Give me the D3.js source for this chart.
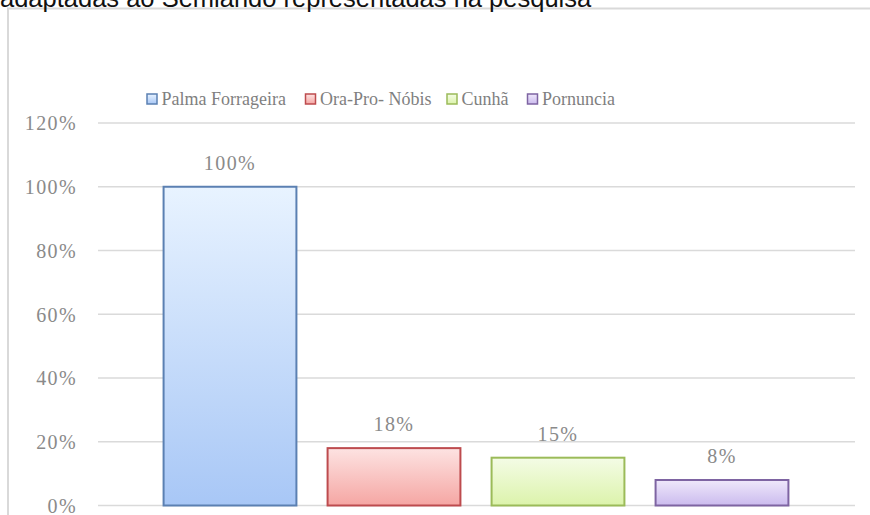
<!DOCTYPE html>
<html>
<head>
  <meta charset="utf-8" />
  <title>Plantas forrageiras</title>
  <script src="https://d3js.org/d3.v7.min.js"></script>
  <style>
    body { margin: 0; background: #fff; overflow: hidden; }
    svg { display: block; }
    .tick text, .val { font-family: "Liberation Serif", serif; fill: #8a8a8a; }
  </style>
</head>
<body>
  <div id="chart"></div>

  <script>
    // data
    const categories = ["Palma Forrageira", "Ora-Pro- Nóbis", "Cunhã", "Pornuncia"];
    const values = [1.00, 0.18, 0.15, 0.08];
    const yTicks = [0, 0.2, 0.4, 0.6, 0.8, 1.0, 1.2];
    const titleText = "adaptadas ao Semiárido representadas na pesquisa";

    // fill gradient (top, bottom) and border per bar
    const gradTop = ["#e8f3ff", "#fde3e2", "#f4fce6", "#efe8fb"];
    const gradBottom = ["#a8c7f6", "#f5a6a3", "#dcf3ab", "#cbbbee"];
    const strokes = ["#5b80b2", "#bd4b4e", "#9bbb59", "#7e64a2"];

    const width = 870, height = 515;

    const svg = d3.select("#chart").append("svg")
      .attr("width", width)
      .attr("height", height);

    const defs = svg.append("defs");
    categories.forEach((c, i) => {
      const g = defs.append("linearGradient")
        .attr("id", "grad" + i)
        .attr("x1", 0).attr("y1", 0).attr("x2", 0).attr("y2", 1);
      g.append("stop").attr("offset", "0%").attr("stop-color", gradTop[i]);
      g.append("stop").attr("offset", "100%").attr("stop-color", gradBottom[i]);
    });

    // chart frame (partly off screen)
    svg.append("rect")
      .attr("x", 8).attr("y", 8.5)
      .attr("width", 900).attr("height", 600)
      .attr("fill", "#fff")
      .attr("stroke", "#d9d9d9")
      .attr("stroke-width", 2);

    // title cut at the top of the page
    svg.append("text")
      .attr("x", 0).attr("y", 7)
      .attr("font-family", "Liberation Sans, Arial, sans-serif")
      .attr("font-size", 25.5)
      .attr("fill", "#111")
      .text(titleText);

    const y = d3.scaleLinear().domain([0, 1.2]).range([505.5, 123]);
    const x = d3.scaleBand().domain(categories)
      .range([148, 804])
      .paddingInner(0.19)
      .paddingOuter(0.095);

    // gridlines + y labels
    const yAxis = d3.axisLeft(y)
      .tickValues(yTicks)
      .tickFormat(d3.format(".0%"))
      .tickSize(0)
      .tickPadding(0);

    const ga = svg.append("g")
      .attr("transform", "translate(77,0)")
      .call(yAxis);
    ga.select(".domain").remove();
    ga.selectAll(".tick text")
      .attr("font-size", 20)
      .attr("letter-spacing", 1.4)
      .attr("dy", "0.34em");

    svg.append("g").selectAll("line")
      .data(yTicks)
      .join("line")
      .attr("x1", 98).attr("x2", 855)
      .attr("y1", d => y(d)).attr("y2", d => y(d))
      .attr("stroke", "#dadada")
      .attr("stroke-width", 1.5);

    // bars
    svg.append("g").selectAll("rect")
      .data(values)
      .join("rect")
      .attr("x", (d, i) => x(categories[i]))
      .attr("y", d => y(d))
      .attr("width", x.bandwidth())
      .attr("height", d => y(0) - y(d))
      .attr("fill", (d, i) => `url(#grad${i})`)
      .attr("stroke", (d, i) => strokes[i])
      .attr("stroke-width", 2);

    // value labels
    svg.append("g").selectAll("text")
      .data(values)
      .join("text")
      .attr("class", "val")
      .attr("x", (d, i) => x(categories[i]) + x.bandwidth() / 2)
      .attr("y", d => y(d) - 17)
      .attr("text-anchor", "middle")
      .attr("font-size", 20)
      .attr("letter-spacing", 1.4)
      .text(d => d3.format(".0%")(d));

    // legend
    const legendX = [147, 305.5, 447, 527.5];
    const lg = svg.append("g");
    categories.forEach((c, i) => {
      lg.append("rect")
        .attr("x", legendX[i]).attr("y", 94)
        .attr("width", 10).attr("height", 10)
        .attr("fill", `url(#grad${i})`)
        .attr("stroke", strokes[i])
        .attr("stroke-width", 1.5);
      lg.append("text")
        .attr("x", legendX[i] + 14.5)
        .attr("y", 99)
        .attr("dy", "0.35em")
        .attr("font-family", "Liberation Serif, serif")
        .attr("font-size", 18)
        .attr("fill", "#7f7f7f")
        .text(c);
    });
  </script>
</body>
</html>
